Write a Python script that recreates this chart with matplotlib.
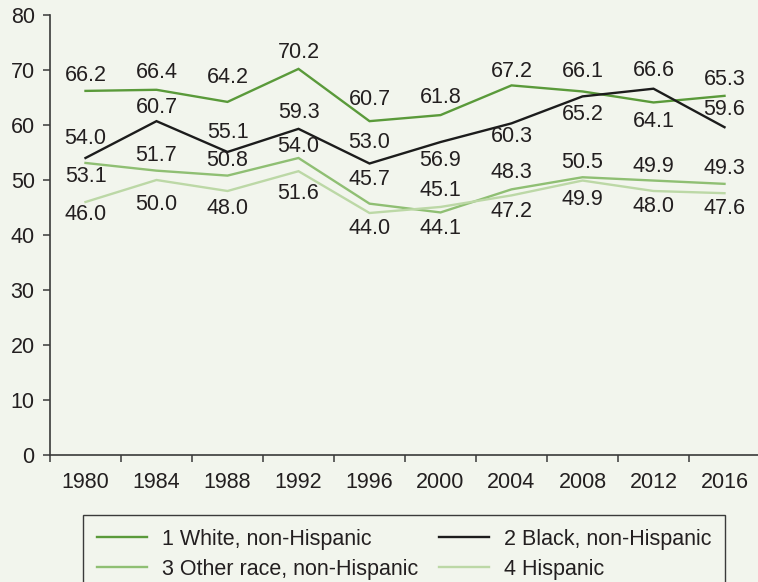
import matplotlib
matplotlib.use("Agg")
import matplotlib.pyplot as plt
import numpy as np

plt.rcParams['font.family'] = ['Liberation Sans', 'DejaVu Sans']

# Election years and series values (percent)
years = ["1980", "1984", "1988", "1992", "1996", "2000", "2004", "2008", "2012", "2016"]
white = [66.2, 66.4, 64.2, 70.2, 60.7, 61.8, 67.2, 66.1, 64.1, 65.3]
black = [54.0, 60.7, 55.1, 59.3, 53.0, 56.9, 60.3, 65.2, 66.6, 59.6]
other = [53.1, 51.7, 50.8, 54.0, 45.7, 44.1, 48.3, 50.5, 49.9, 49.3]
hispanic = [46.0, 50.0, 48.0, 51.6, 44.0, 45.1, 47.2, 49.9, 48.0, 47.6]
y_ticks = [0, 10, 20, 30, 40, 50, 60, 70, 80]

# Vertical label offsets in pixels (positive = above the point)
white_dy = [15, 17, 24, 16, 22, 18, 14, 20, -19, 16]
black_dy = [20, 14, 19, 16, 21, -18, -13, -18, 18, 18]
other_dy = [-14, 15, 15, 11, 24, -16, 17, 15, 14, 15]
hisp_dy = [-12, -25, -17, -22, -16, 16, -16, -19, -15, -15]

BG = "#f2f5ed"
TXT = "#231f20"
FS = 15.5

fig = plt.figure(figsize=(7.58, 5.82), dpi=100, facecolor=BG)
W, H = 758, 582
ax = fig.add_axes([50 / W, 1 - 455 / H, 710 / W, 440 / H])
ax.set_facecolor(BG)

x = np.arange(len(years))
series = [
    ("1 White, non-Hispanic", white, "#5a9a3a", white_dy),
    ("2 Black, non-Hispanic", black, "#1c1c1c", black_dy),
    ("3 Other race, non-Hispanic", other, "#8fbf73", other_dy),
    ("4 Hispanic", hispanic, "#bcd8a6", hisp_dy),
]
handles = {}
for name, vals, col, dys in series:
    ln, = ax.plot(x, vals, color=col, lw=1.7, solid_joinstyle="miter")
    handles[name] = ln
    for xi, v, dy in zip(x, vals, dys):
        ax.annotate(f"{v:.1f}", (xi, v), xytext=(0, dy), textcoords="offset pixels",
                    ha="center", va="center", fontsize=FS, color=TXT)

ax.set_xlim(-0.5, len(years) - 0.5)
ax.set_ylim(0, 80)
ax.set_yticks(y_ticks)
ax.set_yticklabels([str(t) for t in y_ticks])
ax.set_xticks(x)
ax.set_xticklabels(years)
ax.set_xticks(np.arange(-0.5, len(years), 1.0), minor=True)

for s in ["top", "right"]:
    ax.spines[s].set_visible(False)
for s in ["left", "bottom"]:
    ax.spines[s].set_color("#3a3a3a")
    ax.spines[s].set_linewidth(1.2)

ax.tick_params(axis="y", direction="out", length=5, width=1.1, color="#3a3a3a",
               pad=6, labelsize=FS, labelcolor=TXT)
ax.tick_params(axis="x", which="major", length=0, pad=12, labelsize=FS, labelcolor=TXT)
ax.tick_params(axis="x", which="minor", direction="out", length=5, width=1.1, color="#3a3a3a")

order = ["1 White, non-Hispanic", "2 Black, non-Hispanic",
         "3 Other race, non-Hispanic", "4 Hispanic"]
# two-column legend filled row-wise
leg_order = [order[0], order[2], order[1], order[3]]
leg = fig.legend([handles[n] for n in leg_order], leg_order,
                 loc="upper left", bbox_to_anchor=(83 / W, 1 - 515 / H),
                 bbox_transform=fig.transFigure, ncol=2, fontsize=FS,
                 frameon=True, fancybox=False, edgecolor="#3a3a3a",
                 facecolor=BG, framealpha=1, borderaxespad=0,
                 handlelength=2.3, handletextpad=0.7, columnspacing=1.0,
                 borderpad=0.65, labelspacing=0.4)
leg.get_frame().set_linewidth(1.0)
for t in leg.get_texts():
    t.set_color(TXT)

fig.savefig("out.png", dpi=100, facecolor=BG)
